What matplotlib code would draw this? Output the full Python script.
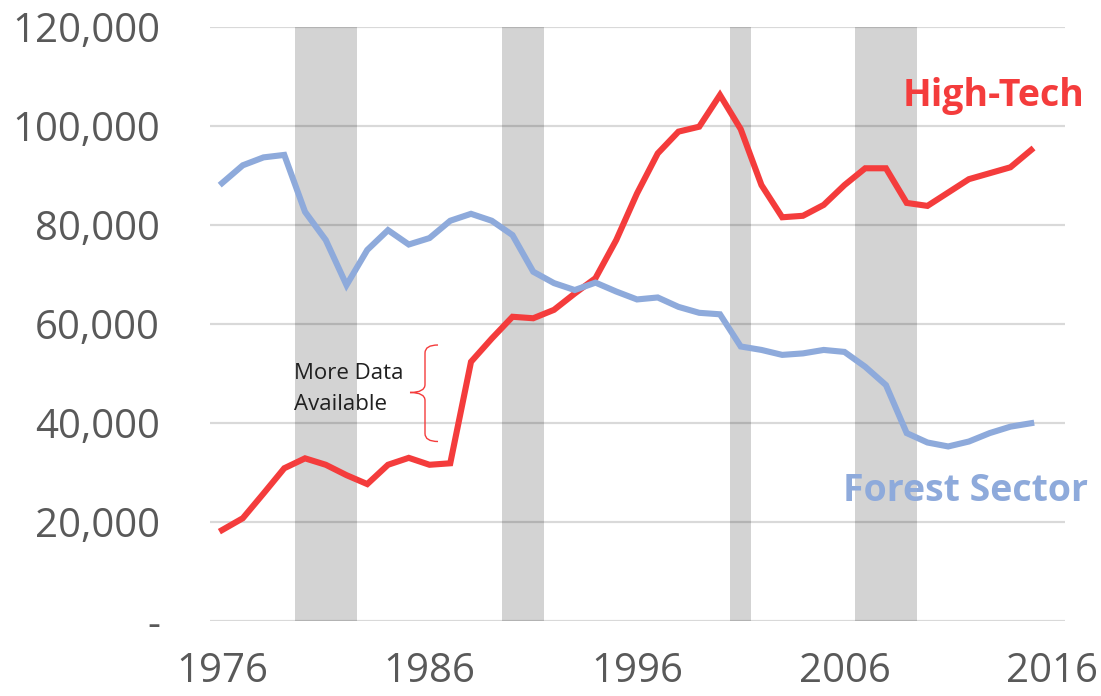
import matplotlib
matplotlib.use("Agg")
import matplotlib.pyplot as plt
from matplotlib.path import Path
from matplotlib.patches import PathPatch

years = list(range(1976, 2016))
forest_sector = [88.4, 92.0, 93.6, 94.1, 82.6, 76.9, 67.8, 74.9, 78.9, 76.0,
                 77.3, 80.8, 82.2, 80.8, 77.9, 70.5, 68.2, 66.8, 68.3, 66.5,
                 64.9, 65.3, 63.4, 62.2, 61.9, 55.4, 54.7, 53.7, 54.0, 54.7,
                 54.3, 51.3, 47.6, 37.9, 36.0, 35.2, 36.2, 37.9, 39.2, 39.9]
high_tech = [18.3, 20.7, 25.7, 30.8, 32.8, 31.5, 29.4, 27.6, 31.5, 32.9,
             31.5, 31.8, 52.3, 57.0, 61.4, 61.1, 62.8, 66.1, 69.2, 76.9,
             86.3, 94.4, 98.8, 99.8, 106.2, 99.3, 88.0, 81.5, 81.8, 84.0,
             88.0, 91.4, 91.4, 84.4, 83.8, 86.5, 89.2, 90.4, 91.6, 95.1]
forest_sector = [v * 1000 for v in forest_sector]
high_tech = [v * 1000 for v in high_tech]
recession_years = [1980, 1981, 1982, 1990, 1991, 2001, 2007, 2008, 2009]
y_ticks = [0, 20000, 40000, 60000, 80000, 100000, 120000]
y_tick_labels = ["-", "20,000", "40,000", "60,000", "80,000", "100,000", "120,000"]
x_ticks = [1976, 1986, 1996, 2006, 2016]

W, H = 1101, 696
fig = plt.figure(figsize=(W / 100, H / 100), dpi=100)
L, R, T, B = 210, 1065, 26.7, 620.7
ax = fig.add_axes([L / W, 1 - B / H, (R - L) / W, (B - T) / H])

FONT = "Open Sans"
red = "#f43c3c"
blue = "#8eaadb"

ax.bar(recession_years, [120000] * len(recession_years), width=1.0,
       color="#d3d3d3", zorder=1, linewidth=0)
for yt in y_ticks:
    ax.axhline(yt, color="black", alpha=0.15, lw=1.6, zorder=2)

ax.plot(years, high_tech, color=red, lw=4.4, zorder=3, solid_joinstyle="miter")
ax.plot(years, forest_sector, color=blue, lw=4.4, zorder=3, solid_joinstyle="miter")

ax.set_xlim(1975.42, 2016.63)
ax.set_ylim(0, 120000)
for s in ax.spines.values():
    s.set_visible(False)
ax.set_yticks(y_ticks)
ax.set_yticklabels(y_tick_labels, fontfamily=FONT, fontsize=29, color="#595959")
ax.set_xticks(x_ticks)
ax.set_xticklabels([str(x) for x in x_ticks], fontfamily=FONT, fontsize=29, color="#595959")
ax.tick_params(axis="y", length=0, pad=36)
ax.tick_params(axis="x", length=0, pad=22)

# labels
fig.text(1084 / W, 1 - 106 / H, "High-Tech", ha="right", va="baseline",
         fontfamily=FONT, fontweight="bold", fontsize=27, color=red)
fig.text(1088 / W, 1 - 501 / H, "Forest Sector", ha="right", va="baseline",
         fontfamily=FONT, fontweight="bold", fontsize=27, color=blue)

# annotation
fig.text(294 / W, 1 - 379 / H, "More Data", ha="left", va="baseline",
         fontfamily=FONT, fontsize=16, color="#202020")
fig.text(294 / W, 1 - 410 / H, "Available", ha="left", va="baseline",
         fontfamily=FONT, fontsize=16, color="#202020")

# curly brace in pixel coordinates (converted to figure fraction)
def P(x, y):
    return (x / W, 1 - y / H)

xt, xm, xp = 438, 425, 410
yt_, yc, yb = 345, 392.5, 441.5
verts = [P(xt, yt_), P(xm, yt_), P(xm, yt_ + 8),
         P(xm, yc - 8), P(xm, yc), P(xp, yc),
         P(xm, yc), P(xm, yc + 8),
         P(xm, yb - 8), P(xm, yb), P(xt, yb)]
codes = [Path.MOVETO, Path.CURVE3, Path.CURVE3,
         Path.LINETO, Path.CURVE3, Path.CURVE3,
         Path.CURVE3, Path.CURVE3,
         Path.LINETO, Path.CURVE3, Path.CURVE3]
brace = PathPatch(Path(verts, codes), transform=fig.transFigure,
                  facecolor="none", edgecolor=red, lw=1.0)
fig.patches.append(brace)

fig.savefig("out.png", dpi=100)
